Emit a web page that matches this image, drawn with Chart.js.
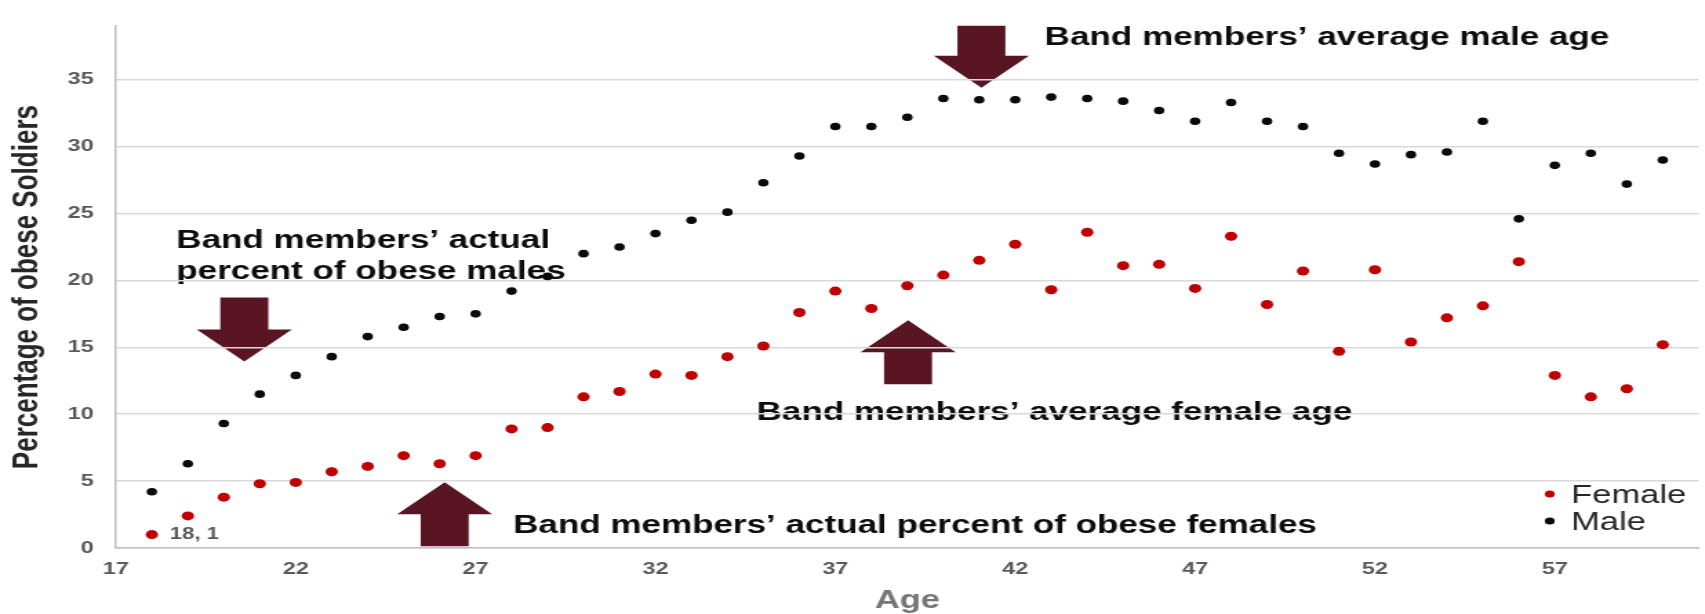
<!DOCTYPE html>
<html>
<head>
<meta charset="utf-8">
<script src="https://cdn.jsdelivr.net/npm/chart.js@4.4.1/dist/chart.umd.min.js"></script>
<style>
  html, body { margin: 0; padding: 0; background: #fff; overflow: hidden; }
  /* the source picture is stretched sideways, so we draw narrow and stretch it */
  #wrap { width: 1236px; height: 614px; transform: scaleX(1.3794); transform-origin: 0 0; }
</style>
</head>
<body>
<div id="wrap"><canvas id="chart"></canvas></div>
<script>
// ages 18..60
const ages = [18, 19, 20, 21, 22, 23, 24, 25, 26, 27, 28, 29, 30, 31, 32, 33, 34, 35, 36, 37, 38,
              39, 40, 41, 42, 43, 44, 45, 46, 47, 48, 49, 50, 51, 52, 53, 54, 55, 56, 57, 58, 59, 60];

const female = [1, 2.4, 3.8, 4.8, 4.9, 5.7, 6.1, 6.9, 6.3, 6.9, 8.9, 9.0, 11.3, 11.7, 13.0, 12.9, 14.3, 15.1, 17.6, 19.2, 17.9,
                19.6, 20.4, 21.5, 22.7, 19.3, 23.6, 21.1, 21.2, 19.4, 23.3, 18.2, 20.7, 14.7, 20.8, 15.4, 17.2, 18.1, 21.4, 12.9, 11.3, 11.9, 15.2];

const male = [4.2, 6.3, 9.3, 11.5, 12.9, 14.3, 15.8, 16.5, 17.3, 17.5, 19.2, 20.3, 22.0, 22.5, 23.5, 24.5, 25.1, 27.3, 29.3, 31.5, 31.5,
              32.2, 33.6, 33.5, 33.5, 33.7, 33.6, 33.4, 32.7, 31.9, 33.3, 31.9, 31.5, 29.5, 28.7, 29.4, 29.6, 31.9, 24.6, 28.6, 29.5, 27.2, 29.0];

const xTicks = [17, 22, 27, 32, 37, 42, 47, 52, 57];
const yTicks = [0, 5, 10, 15, 20, 25, 30, 35];

// callouts, placed in chart units (age, percent)
const notes = [
    { lines: ['Band members’ average male age'], age: 42.82, value: 37.57 },
    { lines: ['Band members’ actual', 'percent of obese males'], age: 18.68, value: 22.44 },
    { lines: ['Band members’ average female age'], age: 34.81, value: 9.6 },
    { lines: ['Band members’ actual percent of obese females'], age: 28.04, value: 1.09 }
];

const arrows = [
    { age: 41.06, value: 34.40, dir: 'down', shaft: 30 },
    { age: 20.57, value: 13.93, dir: 'down', shaft: 32 },
    { age: 39.02, value: 17.02, dir: 'up', shaft: 32 },
    { age: 26.14, value: 4.91, dir: 'up', shaft: 32 }
];

const FONT = "'Liberation Sans', Arial, sans-serif";
Chart.defaults.font.family = FONT;

// block arrow, (x, y) is the tip
function drawArrow(ctx, x, y, dir, shaft) {
    const head = 32, headHalf = 34.5, shaftHalf = 17.4;
    const s = dir === 'down' ? -1 : 1;
    ctx.beginPath();
    ctx.moveTo(x, y);
    ctx.lineTo(x - headHalf, y + s * head);
    ctx.lineTo(x - shaftHalf, y + s * head);
    ctx.lineTo(x - shaftHalf, y + s * (head + shaft));
    ctx.lineTo(x + shaftHalf, y + s * (head + shaft));
    ctx.lineTo(x + shaftHalf, y + s * head);
    ctx.lineTo(x + headHalf, y + s * head);
    ctx.closePath();
    ctx.fillStyle = '#5a1524';
    ctx.fill();
}

// drawn before the grid, so the grid lines cross over them like in the source
const calloutPlugin = {
    id: 'callouts',
    beforeDraw(chart) {
        const { ctx, scales: { x, y } } = chart;
        ctx.save();
        arrows.forEach(a => drawArrow(ctx, x.getPixelForValue(a.age), y.getPixelForValue(a.value), a.dir, a.shaft));
        ctx.font = 'bold 25.4px ' + FONT;
        ctx.fillStyle = '#0d0d0d';
        ctx.textBaseline = 'alphabetic';
        ctx.textAlign = 'left';
        notes.forEach(n => {
            const px = x.getPixelForValue(n.age);
            const py = y.getPixelForValue(n.value);
            n.lines.forEach((line, i) => ctx.fillText(line, px, py + i * 31));
        });
        ctx.restore();
    },
    afterDatasetsDraw(chart) {
        // the single data label on the first female point
        const { ctx } = chart;
        const pt = chart.getDatasetMeta(0).data[0];
        ctx.save();
        ctx.font = 'bold 16px ' + FONT;
        ctx.fillStyle = '#595959';
        ctx.textBaseline = 'middle';
        ctx.fillText(ages[0] + ', ' + female[0], pt.x + 13, pt.y);
        ctx.restore();
    },
    afterDraw(chart) {
        // legend sits inside the plot, bottom right
        const { ctx, chartArea } = chart;
        ctx.save();
        ctx.font = '25px ' + FONT;
        ctx.textBaseline = 'middle';
        chart.data.datasets.forEach((ds, i) => {
            const cy = chartArea.bottom - 54 + i * 27;
            ctx.beginPath();
            ctx.arc(chartArea.right - 108, cy, 3.6, 0, Math.PI * 2);
            ctx.fillStyle = ds.backgroundColor;
            ctx.fill();
            ctx.fillStyle = '#262626';
            ctx.fillText(ds.label, chartArea.right - 92.5, cy + 2);
        });
        ctx.restore();
    }
};

new Chart(document.getElementById('chart'), {
    type: 'scatter',
    data: {
        datasets: [
            {
                label: 'Female',
                data: ages.map((a, i) => ({ x: a, y: female[i] })),
                backgroundColor: '#c00000',
                borderWidth: 0,
                pointRadius: 4.5
            },
            {
                label: 'Male',
                data: ages.map((a, i) => ({ x: a, y: male[i] })),
                backgroundColor: '#0a0a0a',
                borderWidth: 0,
                pointRadius: 3.8
            }
        ]
    },
    options: {
        responsive: true,
        maintainAspectRatio: false,
        animation: false,
        layout: { padding: { top: 14, left: 0, right: 0, bottom: 0 } },
        plugins: {
            legend: { display: false },
            tooltip: { enabled: false }
        },
        scales: {
            x: {
                type: 'linear',
                min: 17,
                max: 61,
                afterBuildTicks: s => { s.ticks = xTicks.map(v => ({ value: v })); },
                afterFit: s => { s.height = 66; },
                grid: { display: false, drawTicks: false },
                border: { display: true, color: '#bfbfbf', width: 1.5 },
                ticks: {
                    padding: 11,
                    maxRotation: 0,
                    color: '#595959',
                    font: { size: 17, weight: 'bold' }
                },
                title: {
                    display: true,
                    text: 'Age',
                    color: '#767676',
                    font: { size: 25, weight: 'bold', lineHeight: 1 },
                    padding: { top: 0, bottom: 0 }
                }
            },
            y: {
                min: 0,
                max: 39,
                afterBuildTicks: s => { s.ticks = yTicks.map(v => ({ value: v })); },
                afterFit: s => { s.width = 84; },
                grid: { color: '#d9d9d9', lineWidth: 1.5, drawTicks: false },
                border: { display: true, color: '#bfbfbf', width: 1.5 },
                ticks: {
                    padding: 16,
                    color: '#595959',
                    font: { size: 17, weight: 'bold' }
                },
                title: {
                    display: true,
                    text: 'Percentage of obese Soldiers',
                    color: '#262626',
                    font: { size: 26, weight: 'bold' },
                    padding: { top: 4, bottom: 0 }
                }
            }
        }
    },
    plugins: [calloutPlugin]
});
</script>
</body>
</html>
